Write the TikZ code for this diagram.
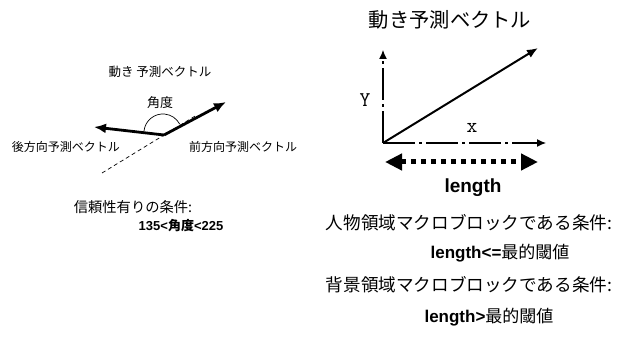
\documentclass[tikz,border=0pt]{standalone}
\usepackage{fontspec}
\setmainfont{Liberation Sans}
\newfontfamily\jp{Noto Sans CJK JP}
\usetikzlibrary{arrows.meta}
\begin{document}
\begin{tikzpicture}[x=1pt,y=-1pt,
  lbl/.style={inner sep=0pt,anchor=center},
  vec/.style={line width=2.8pt,-{Latex[length=12pt,width=10pt]}},
  axis/.style={line width=1.2pt,-{Latex[length=9pt,width=8pt]},dash pattern=on 32pt off 4pt on 3pt off 4pt}]
\useasboundingbox (0,0) rectangle (625,339);
% ---------- left part ----------
\node[lbl] (lt) at (160,72) {\jp\fontsize{12.5}{14}\selectfont 動き 予測ベクトル};
\node[lbl] (ang) at (160,103) {\jp\fontsize{13}{15}\selectfont 角度};
\coordinate (V) at (164,135);
\coordinate (F) at (226,102);
\coordinate (B) at (94,127);
\coordinate (D) at (102,173);
\coordinate (E) at (196,115.5);
\draw[line width=0.7pt,dash pattern=on 4pt off 3pt] (D) -- (E);
\draw[vec] (V) -- (F);
\draw[vec] (V) -- (B);
\draw[line width=0.7pt] (144,131) arc[start angle=186,end angle=332,radius=19];
\node[lbl] (bl) at (66,147) {\jp\fontsize{12}{14}\selectfont 後方向予測ベクトル};
\node[lbl] (fl) at (243,147) {\jp\fontsize{12}{14}\selectfont 前方向予測ベクトル};
\node[lbl] (c1) at (133,207) {\jp\fontsize{14.3}{16}\selectfont 信頼性有りの条件:};
\node[lbl] (c2) at (181,226) {\fontsize{13}{15}\selectfont\bfseries 135<{\jp 角度}<225};
% ---------- right part ----------
\node[lbl] (rt) at (450,20) {\jp\fontsize{20.3}{23}\selectfont 動き予測ベクトル};
\coordinate (O) at (383,143);
\coordinate (Yt) at (383,50);
\coordinate (Xt) at (546,143);
\coordinate (T) at (538,48);
\draw[axis] (O) -- (Yt);
\draw[axis] (O) -- (Xt);
\draw[line width=2pt,-{Latex[length=11pt,width=9pt]}] (O) -- (T);
\node[lbl] (yl) at (365,100) {\ttfamily\fontsize{21}{22}\selectfont Y};
\node[lbl] (xl) at (472,128) {\ttfamily\fontsize{21}{22}\selectfont x};
\coordinate (La) at (385,162);
\coordinate (Lb) at (538,162);
\draw[line width=5pt,dash pattern=on 5pt off 5pt,{Triangle[length=17pt,width=16pt]}-{Triangle[length=17pt,width=16pt]}] (La) -- (Lb);
\node[lbl] (len) at (473,188) {\fontsize{19}{21}\selectfont\bfseries length};
\node[lbl] (r1) at (469,223) {\jp\fontsize{17.6}{20}\selectfont 人物領域マクロブロックである条件:};
\node[lbl] (r2) at (500,253) {\fontsize{17}{20}\selectfont\bfseries length<={\jp\mdseries 最的閾値}};
\node[lbl] (r3) at (469,285) {\jp\fontsize{17.6}{20}\selectfont 背景領域マクロブロックである条件:};
\node[lbl] (r4) at (489,317) {\fontsize{17}{20}\selectfont\bfseries length>{\jp\mdseries 最的閾値}};
\end{tikzpicture}
\end{document}
